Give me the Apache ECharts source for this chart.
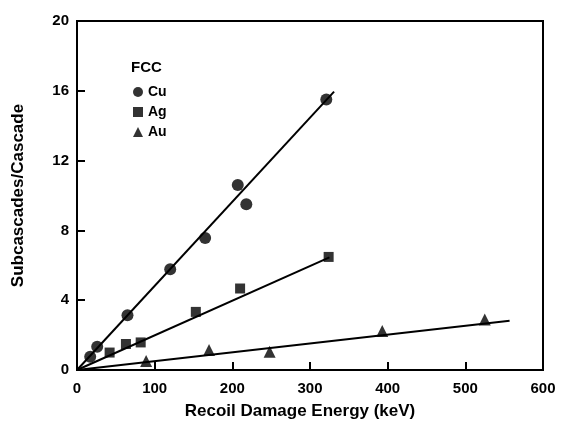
<!DOCTYPE html>
<html>
<head>
<meta charset="utf-8">
<script src="https://cdn.jsdelivr.net/npm/echarts@6/dist/echarts.min.js"></script>
<style>
html, body { margin: 0; padding: 0; background: #fff; }
#container { width: 561px; height: 432px; }
</style>
</head>
<body>
<div id="container"></div>
<script>
var cuPoints = [[17, 0.76], [26, 1.33], [65, 3.14], [120, 5.77], [165, 7.56], [207, 10.6], [218, 9.5], [321, 15.5]];
var agPoints = [[42, 1.0], [63, 1.49], [82, 1.58], [153, 3.33], [210, 4.67], [324, 6.48]];
var auPoints = [[89, 0.51], [170, 1.14], [248, 1.05], [393, 2.23], [525, 2.9]];
// fitted lines (end points)
var cuFit = [[0, 0], [331, 15.95]];
var agFit = [[0, 0], [325, 6.45]];
var auFit = [[0, 0], [557, 2.82]];
var legendNames = ['Cu', 'Ag', 'Au'];

var font = 'Liberation Sans, Arial, sans-serif';
var myChart = echarts.init(document.getElementById('container'));

function fitLine(name, data) {
	return {
		name: name + ' fit',
		type: 'line',
		data: data,
		symbol: 'none',
		silent: true,
		lineStyle: { color: '#000', width: 2 },
		z: 1
	};
}

var option = {
	animation: false,
	backgroundColor: '#fff',
	grid: { left: 77, right: 18, top: 21, bottom: 62 },
	legend: {
		orient: 'vertical',
		left: 128,
		top: 80,
		itemGap: 6,
		itemWidth: 10,
		itemHeight: 10,
		data: [
			{ name: 'Cu', icon: 'circle' },
			{ name: 'Ag', icon: 'rect' },
			{ name: 'Au', icon: 'triangle' }
		],
		textStyle: { fontFamily: font, fontWeight: 'bold', fontSize: 14, color: '#000', padding: [0, 0, 0, 0] }
	},
	xAxis: {
		type: 'value',
		min: 0,
		max: 600,
		interval: 100,
		name: 'Recoil Damage Energy (keV)',
		nameLocation: 'middle',
		nameGap: 33,
		nameTextStyle: { fontFamily: font, fontWeight: 'bold', fontSize: 17, color: '#000', padding: [0, 20, 0, 0] },
		axisLine: { onZero: false, lineStyle: { color: '#000', width: 2 } },
		axisTick: { inside: true, length: 8, lineStyle: { color: '#000', width: 2 } },
		axisLabel: { fontFamily: font, fontWeight: 'bold', fontSize: 15, color: '#000', margin: 11 },
		splitLine: { show: false }
	},
	yAxis: {
		type: 'value',
		min: 0,
		max: 20,
		interval: 4,
		name: 'Subcascades/Cascade',
		nameLocation: 'middle',
		nameGap: 50,
		nameTextStyle: { fontFamily: font, fontWeight: 'bold', fontSize: 17, color: '#000' },
		axisLine: { onZero: false, lineStyle: { color: '#000', width: 2 } },
		axisTick: { inside: true, length: 8, lineStyle: { color: '#000', width: 2 } },
		axisLabel: { fontFamily: font, fontWeight: 'bold', fontSize: 15, color: '#000', margin: 8 },
		splitLine: { show: false }
	},
	graphic: [{
		type: 'text',
		left: 131,
		top: 60,
		style: { text: 'FCC', font: 'bold 15px ' + font, fill: '#000' }
	}, {
		// top and right frame lines
		type: 'polyline',
		shape: { points: [[77, 371], [77, 21], [543, 21], [543, 371]] },
		style: { stroke: '#000', lineWidth: 2, fill: null },
		z: 0
	}],
	series: [
		fitLine('Cu', cuFit),
		fitLine('Ag', agFit),
		fitLine('Au', auFit),
		{
			name: legendNames[0], type: 'scatter', data: cuPoints,
			symbol: 'circle', symbolSize: 12,
			itemStyle: { color: '#000' }, z: 3
		},
		{
			name: legendNames[1], type: 'scatter', data: agPoints,
			symbol: 'rect', symbolSize: 10,
			itemStyle: { color: '#000' }, z: 3
		},
		{
			name: legendNames[2], type: 'scatter', data: auPoints,
			symbol: 'triangle', symbolSize: 12,
			itemStyle: { color: '#000' }, z: 3
		}
	]
};
myChart.setOption(option);
</script>
</body>
</html>
